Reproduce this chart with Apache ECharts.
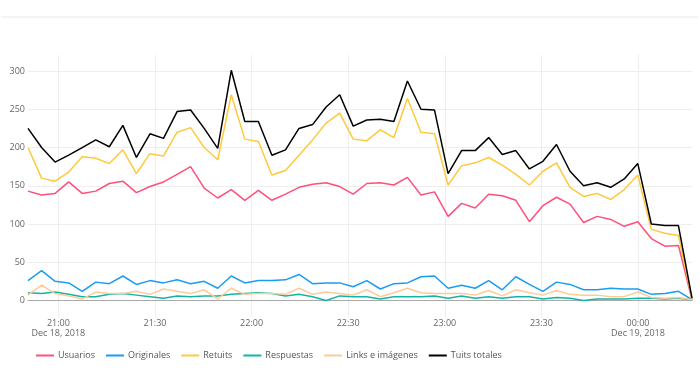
<!DOCTYPE html>
<html>
<head>
<meta charset="utf-8">
<script src="https://cdn.jsdelivr.net/npm/echarts@6/dist/echarts.min.js"></script>
<style>
html,body{margin:0;padding:0;background:#fff;}
#chart{width:700px;height:370px;}
</style>
</head>
<body>
<div id="chart"></div>
<script>
// Sample times (local time of the capture)
const times = [
'2018-12-18 20:50:34','2018-12-18 20:54:47','2018-12-18 20:58:59','2018-12-18 21:03:12','2018-12-18 21:07:24',
'2018-12-18 21:11:37','2018-12-18 21:15:49','2018-12-18 21:20:02','2018-12-18 21:24:14','2018-12-18 21:28:27',
'2018-12-18 21:32:39','2018-12-18 21:36:52','2018-12-18 21:41:04','2018-12-18 21:45:17','2018-12-18 21:49:29',
'2018-12-18 21:53:42','2018-12-18 21:57:54','2018-12-18 22:02:07','2018-12-18 22:06:19','2018-12-18 22:10:32',
'2018-12-18 22:14:44','2018-12-18 22:18:57','2018-12-18 22:23:09','2018-12-18 22:27:22','2018-12-18 22:31:34',
'2018-12-18 22:35:47','2018-12-18 22:39:59','2018-12-18 22:44:12','2018-12-18 22:48:24','2018-12-18 22:52:37',
'2018-12-18 22:56:49','2018-12-18 23:01:02','2018-12-18 23:05:14','2018-12-18 23:09:27','2018-12-18 23:13:39',
'2018-12-18 23:17:52','2018-12-18 23:22:04','2018-12-18 23:26:17','2018-12-18 23:30:29','2018-12-18 23:34:42',
'2018-12-18 23:38:54','2018-12-18 23:43:07','2018-12-18 23:47:19','2018-12-18 23:51:32','2018-12-18 23:55:44',
'2018-12-18 23:59:57','2018-12-19 00:04:09','2018-12-19 00:08:22','2018-12-19 00:12:34','2018-12-19 00:16:47'
];

const usuarios = [143,138,140,155,140,143,153,156,141,149,155,165,175,147,134,145,131,144,131,139,
  148,152,154,149,139,153,154,151,161,138,142,110,127,121,139,137,131,103,124,135,
  126,102,110,106,97,103,81,71,72,1];
const originales = [26,39,25,23,12,24,22,32,21,26,23,27,22,25,16,32,23,26,26,27,
  34,22,23,23,18,26,15,22,23,31,32,16,20,16,26,14,31,21,12,24,
  21,14,14,16,15,15,8,9,12,1];
const retuits = [200,160,156,168,188,186,179,197,166,192,189,220,226,200,184,269,211,208,164,170,
  190,210,232,245,211,209,223,213,264,220,218,151,176,180,187,177,165,151,169,180,
  148,136,140,132,145,164,93,88,85,2];
const respuestas = [10,9,11,8,5,5,8,9,7,5,3,6,5,6,6,8,9,10,9,6,
  8,5,0,6,5,5,2,5,5,5,6,3,6,3,5,3,5,5,2,4,
  3,0,2,2,2,3,3,2,3,1];
const links = [7,20,9,6,2,11,9,9,12,8,15,12,9,14,2,16,8,9,9,8,
  16,8,11,9,7,14,5,10,16,10,9,9,9,7,13,6,14,10,7,13,
  8,7,7,5,5,11,4,3,4,1];
const totales = [225,200,181,190,200,210,201,229,187,218,212,247,249,225,199,301,234,234,190,197,
  225,230,253,269,228,236,237,234,287,250,249,166,196,196,213,191,196,172,182,204,
  169,150,154,148,159,179,100,98,98,3];

const seriesNames = ['Usuarios','Originales','Retuits','Respuestas','Links e imágenes','Tuits totales'];
const seriesColors = ['#ff4f7b','#1a9cf0','#ffc93c','#12b5a5','#ffca98','#000000'];

const xTickTimes = ['2018-12-18 21:00:00','2018-12-18 21:30:00','2018-12-18 22:00:00','2018-12-18 22:30:00',
  '2018-12-18 23:00:00','2018-12-18 23:30:00','2018-12-19 00:00:00'];
const xTickLabels = ['21:00\nDec 18, 2018','21:30','22:00','22:30','23:00','23:30','00:00\nDec 19, 2018'];
const yTicks = [0,50,100,150,200,250,300];

function toMin(s){
  const m = s.match(/(\d+)-(\d+)-(\d+) (\d+):(\d+):(\d+)/);
  const t = Date.UTC(+m[1], +m[2]-1, +m[3], +m[4], +m[5], +m[6]);
  const ref = Date.UTC(2018, 11, 18, 21, 0, 0);
  return (t - ref) / 60000;
}
const xs = times.map(toMin);
const xTickVals = xTickTimes.map(toMin);

const allData = [usuarios, originales, retuits, respuestas, links, totales];
const series = allData.map((arr, k) => ({
  name: seriesNames[k],
  type: 'line',
  data: arr.map((v, i) => [xs[i], v]),
  showSymbol: false,
  symbol: 'none',
  lineStyle: { width: 1.5, color: seriesColors[k] },
  itemStyle: { color: seriesColors[k] },
  animation: false
}));

const chart = echarts.init(document.getElementById('chart'), null, {renderer: 'canvas'});
chart.setOption({
  backgroundColor: '#fff',
  animation: false,
  textStyle: { fontFamily: 'Open Sans' },
  grid: { left: 28, right: 8, top: 55, bottom: 53, containLabel: false },
  graphic: [{
    type: 'line', shape: { x1: 1, y1: 17, x2: 698, y2: 17 },
    style: { stroke: '#f0f0f0', lineWidth: 1.5 }, silent: true
  }],
  legend: {
    data: seriesNames.map((n, k) => ({ name: n, icon: 'rect', itemStyle: { color: seriesColors[k] } })),
    left: 31, top: 346,
    itemWidth: 18, itemHeight: 2, itemGap: 11,
    textStyle: { fontSize: 9, color: '#555', fontFamily: 'Open Sans', padding: [0,0,0,-1] }
  },
  xAxis: {
    type: 'value',
    min: xs[0], max: xs[xs.length - 1],
    axisLine: { show: true, onZero: true, lineStyle: { color: '#aaaaaa', width: 1 } },
    axisTick: { show: false, customValues: xTickVals },
    axisLabel: {
      customValues: xTickVals,
      margin: 1,
      fontSize: 9, color: '#666', lineHeight: 10.5,
      fontFamily: 'Open Sans',
      formatter: function (v) {
        let best = 0;
        for (let i = 0; i < xTickVals.length; i++) if (Math.abs(xTickVals[i] - v) < Math.abs(xTickVals[best] - v)) best = i;
        return xTickLabels[best];
      }
    },
    splitLine: { show: true, lineStyle: { color: '#eeeeee', width: 1 } }
  },
  yAxis: {
    type: 'value',
    min: -21.6, max: 321,
    axisLine: { show: false },
    axisTick: { show: false, customValues: yTicks },
    axisLabel: { customValues: yTicks, fontSize: 9, color: '#666', margin: 3, fontFamily: 'Open Sans' },
    splitLine: { show: true, lineStyle: { color: '#eeeeee', width: 1 } }
  },
  series: series
});
</script>
</body>
</html>
